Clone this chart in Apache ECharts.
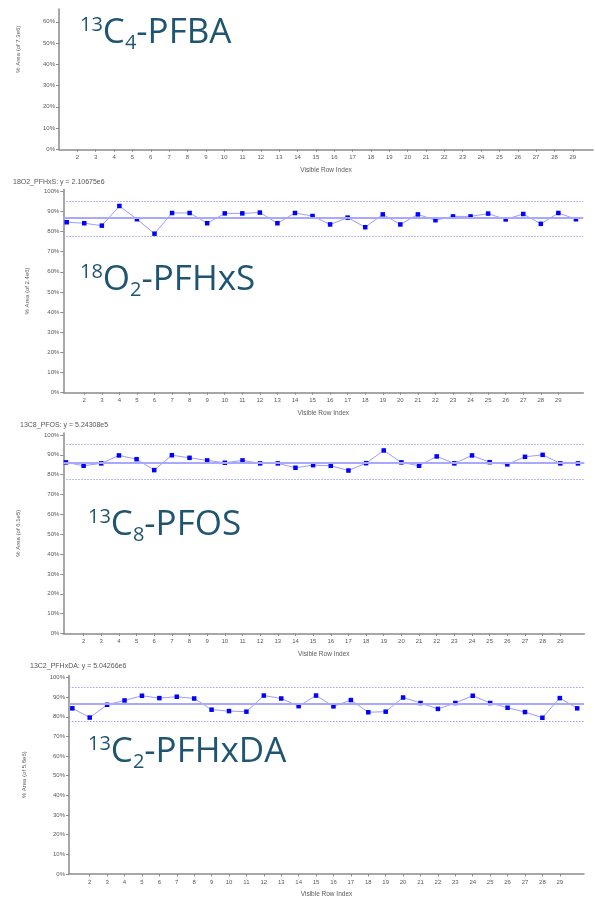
<!DOCTYPE html>
<html>
<head>
<meta charset="utf-8">
<script src="https://cdn.jsdelivr.net/npm/echarts@6/dist/echarts.min.js"></script>
<style>
  html, body { margin: 0; padding: 0; background: #ffffff; }
  #chart { width: 595px; height: 899px; }
</style>
</head>
<body>
<div id="chart"></div>
<script>
// Run index shared by every QC panel
const rowIndex = [1, 2, 3, 4, 5, 6, 7, 8, 9, 10, 11, 12, 13, 14, 15,
                  16, 17, 18, 19, 20, 21, 22, 23, 24, 25, 26, 27, 28, 29, 30];
const xTickLabels = [2, 3, 4, 5, 6, 7, 8, 9, 10, 11, 12, 13, 14, 15, 16,
                     17, 18, 19, 20, 21, 22, 23, 24, 25, 26, 27, 28, 29];

// % area of each internal standard, per run
const pfbaArea = [];
const pfhxsArea = [84.7, 84.2, 83.0, 92.8, 86.2, 79.0, 89.3, 89.3, 84.2, 89.1,
                   89.1, 89.5, 84.2, 89.3, 87.8, 83.6, 87.0, 82.2, 88.6, 83.6,
                   88.6, 85.7, 87.6, 87.6, 89.0, 86.1, 88.8, 83.9, 89.3, 86.2];
const pfosArea = [86.2, 84.5, 85.7, 89.7, 87.8, 82.3, 89.8, 88.5, 87.2, 86.0,
                  87.2, 85.7, 85.7, 83.5, 84.8, 84.5, 82.1, 85.8, 92.2, 86.2,
                  84.5, 89.2, 85.7, 89.7, 86.3, 85.2, 89.0, 90.0, 85.7, 85.7];
const pfhxdaArea = [84.3, 79.6, 86.1, 88.3, 90.7, 89.5, 90.2, 89.3, 83.6, 82.9,
                    82.6, 90.8, 89.3, 85.4, 90.8, 85.3, 88.5, 82.3, 82.6, 89.8,
                    87.0, 84.0, 87.0, 90.7, 87.0, 84.6, 82.4, 79.5, 89.5, 84.3];

// Control lines (mean, upper and lower limits) per panel; PFBA has none
const meanLines = [null, 86.8, 86.2, 86.5];
const upperLimits = [null, 95.2, 95.2, 94.9];
const lowerLimits = [null, 77.8, 77.5, 77.6];

// Axis tick labels
const yTicksPfba = [0, 10, 20, 30, 40, 50, 60];
const yTicksFull = [0, 10, 20, 30, 40, 50, 60, 70, 80, 90, 100];

// Texts
const captions = [
  ['13', 'C', '4', '-PFBA'],
  ['18', 'O', '2', '-PFHxS'],
  ['13', 'C', '8', '-PFOS'],
  ['13', 'C', '2', '-PFHxDA']
];
const subtitles = [
  '',
  '18O2_PFHxS: y = 2.10675e6',
  '13C8_PFOS: y = 5.24308e5',
  '13C2_PFHxDA: y = 5.04266e6'
];
const yAxisNames = ['% Area (of 7.3e6)', '% Area (of 2.4e6)', '% Area (of 6.1e5)', '% Area (of 5.8e6)'];
const xAxisName = 'Visible Row Index';

const seriesValues = [pfbaArea, pfhxsArea, pfosArea, pfhxdaArea];

// ---- layout ----
const layout = [
  { left: 59,   top: 9,     width: 534, height: 140.3, xMin: 1,     xMax: 30.1,  yMax: 66,  yTicks: yTicksPfba,
    cap: { left: 80, top: 13 }, sub: null, nameGap: 38, namePad: 60 },
  { left: 63.3, top: 189.5, width: 520, height: 202.8, xMin: 0.806, xMax: 30.42, yMax: 101, yTicks: yTicksFull,
    cap: { left: 80, top: 260 }, sub: { left: 13, top: 179 }, nameGap: 33, namePad: 0 },
  { left: 63.3, top: 433,   width: 521, height: 200.5, xMin: 0.85,  xMax: 30.36, yMax: 101, yTicks: yTicksFull,
    cap: { left: 88, top: 505 }, sub: { left: 20, top: 422 }, nameGap: 42, namePad: 0 },
  { left: 69,   top: 675.5, width: 515, height: 200.5, xMin: 0.81,  xMax: 30.39, yMax: 101, yTicks: yTicksFull,
    cap: { left: 88, top: 732 }, sub: { left: 30, top: 663 }, nameGap: 42, namePad: 0 }
];

const axisGrey = '#8a8a8a';
const labelGrey = '#5a5a5a';
const captionColor = '#1f5570';

const grids = [], xAxes = [], yAxes = [], series = [], titles = [];

layout.forEach((p, i) => {
  grids.push({ left: p.left, top: p.top, width: p.width, height: p.height, containLabel: false });

  xAxes.push({
    gridIndex: i, type: 'value', min: p.xMin, max: p.xMax,
    name: xAxisName, nameLocation: 'middle', nameGap: 17,
    nameTextStyle: { fontSize: 6.5, color: labelGrey, fontFamily: 'Liberation Sans' },
    splitLine: { show: false },
    axisLine: { lineStyle: { color: axisGrey, width: 1.5 } },
    axisTick: { show: true, customValues: xTickLabels, length: 2.5, inside: false, lineStyle: { color: axisGrey } },
    axisLabel: { customValues: xTickLabels, fontSize: 6, color: labelGrey, margin: 5, fontFamily: 'Liberation Sans' }
  });

  yAxes.push({
    gridIndex: i, type: 'value', min: 0, max: p.yMax,
    name: yAxisNames[i], nameLocation: 'middle', nameGap: p.nameGap,
    nameTextStyle: { fontSize: 6, color: labelGrey, fontFamily: 'Liberation Sans', padding: [0, 0, 0, p.namePad] },
    splitLine: { show: false },
    axisLine: { show: true, lineStyle: { color: axisGrey, width: 1.5 } },
    axisTick: { show: true, customValues: p.yTicks, length: 3, lineStyle: { color: axisGrey } },
    axisLabel: { customValues: p.yTicks, formatter: '{value}%', fontSize: 6, color: labelGrey, margin: 4, fontFamily: 'Liberation Sans' }
  });

  const s = {
    type: 'line', xAxisIndex: i, yAxisIndex: i,
    data: seriesValues[i].map((v, k) => [rowIndex[k], v]),
    symbol: 'rect', symbolSize: 4.5,
    itemStyle: { color: '#0000ff' },
    lineStyle: { color: '#9d9df7', width: 1 },
    animation: false, silent: true
  };
  if (meanLines[i] !== null) {
    s.markLine = {
      silent: true, symbol: 'none', animation: false,
      label: { show: false },
      data: [
        { yAxis: meanLines[i], lineStyle: { color: '#a8a8ff', width: 2, type: 'solid' } },
        { yAxis: upperLimits[i], lineStyle: { color: '#a3a3f5', width: 1, type: [1.5, 1.5] } },
        { yAxis: lowerLimits[i], lineStyle: { color: '#a3a3f5', width: 1, type: [1.5, 1.5] } }
      ]
    };
  }
  series.push(s);

  const c = captions[i];
  const capFont = { color: captionColor, fontFamily: 'Open Sans', fontWeight: 'normal' };
  titles.push({
    left: p.cap.left, top: p.cap.top, padding: 0,
    text: '{sup|' + c[0] + '}{main|' + c[1] + '}{sub|' + c[2] + '}{main|' + c[3] + '}',
    textStyle: {
      fontWeight: 'normal',
      rich: {
        main: Object.assign({ fontSize: 35, lineHeight: 40, verticalAlign: 'middle' }, capFont),
        sup:  Object.assign({ fontSize: 20, lineHeight: 20, verticalAlign: 'top', padding: [2, 0, 0, 0] }, capFont),
        sub:  Object.assign({ fontSize: 20, lineHeight: 20, verticalAlign: 'bottom' }, capFont)
      }
    }
  });
  if (p.sub) {
    titles.push({
      left: p.sub.left, top: p.sub.top, padding: 0, text: subtitles[i],
      textStyle: { fontSize: 7, fontWeight: 'normal', color: '#555555', fontFamily: 'Liberation Sans' }
    });
  }
});

const chart = echarts.init(document.getElementById('chart'), null, { renderer: 'canvas' });
chart.setOption({
  animation: false,
  backgroundColor: '#ffffff',
  title: titles,
  grid: grids,
  xAxis: xAxes,
  yAxis: yAxes,
  series: series
});
</script>
</body>
</html>
